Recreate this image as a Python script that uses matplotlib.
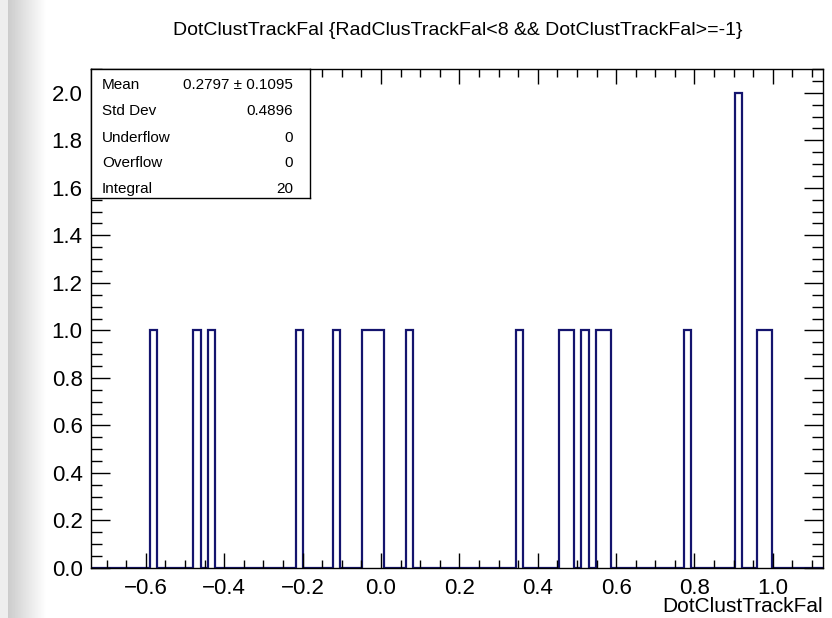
import numpy as np
import matplotlib
matplotlib.use("Agg")
import matplotlib.pyplot as plt
from matplotlib.ticker import MultipleLocator, FuncFormatter

plt.rcParams['font.family'] = ['Liberation Sans', 'DejaVu Sans']

# histogram definition
x_min, x_max, n_bins = -0.74, 1.128, 100
filled_bins = [8, 14, 16, 28, 33, 37, 38, 39, 43, 58, 64, 65, 67, 69, 70, 81, 88, 91, 92]
bin_counts = [1, 1, 1, 1, 1, 1, 1, 1, 1, 1, 1, 1, 1, 1, 1, 1, 2, 1, 1]

stat_names = ["Mean", "Std Dev", "Underflow", "Overflow", "Integral"]
stat_values = ["0.2797 \u00b1 0.1095", "0.4896", "0", "0", "20"]

title = "DotClustTrackFal {RadClusTrackFal<8 && DotClustTrackFal>=-1}"
x_label = "DotClustTrackFal"

counts = np.zeros(n_bins)
counts[filled_bins] = bin_counts
edges = np.linspace(x_min, x_max, n_bins + 1)

W, H = 832, 618
fig = plt.figure(figsize=(W / 100, H / 100), dpi=100)

# grey shadow strip on the left
bg = fig.add_axes([0, 0, 48 / W, 1])
grad = np.ones((2, 48))
ramp = np.clip((np.arange(48) - 8) / 38.0, 0, 1)
grad[:] = 0.80 + 0.20 * ramp
grad[:, :8] = 0.93
bg.imshow(grad, cmap='gray', vmin=0, vmax=1, aspect='auto', extent=[0, 1, 0, 1])
bg.axis('off')

ax = fig.add_axes([91 / W, 1 - 568 / H, (823 - 91) / W, (568 - 69) / H])
ax.stairs(counts, edges, color='#14146e', linewidth=1.6)
ax.set_xlim(x_min, x_max)
ax.set_ylim(0, 2.1)

ax.xaxis.set_major_locator(MultipleLocator(0.2))
ax.xaxis.set_minor_locator(MultipleLocator(0.05))
ax.yaxis.set_major_locator(MultipleLocator(0.2))
ax.yaxis.set_minor_locator(MultipleLocator(0.05))
fmt = FuncFormatter(lambda v, p: f"{v:.1f}".replace('-', '\u2212'))
ax.xaxis.set_major_formatter(fmt)
ax.yaxis.set_major_formatter(fmt)

ax.tick_params(axis='both', which='both', direction='in', top=True, right=True,
               colors='black', labelsize=16, width=1)
ax.tick_params(axis='x', which='major', length=11, pad=7)
ax.tick_params(axis='x', which='minor', length=6)
ax.tick_params(axis='y', which='major', length=14, pad=6)
ax.tick_params(axis='y', which='minor', length=8)
for s in ax.spines.values():
    s.set_linewidth(1)

# stats box
box = fig.add_axes([91 / W, 1 - 198 / H, 219 / W, 129 / H])
box.set_xticks([])
box.set_yticks([])
box.set_facecolor('white')
for s in box.spines.values():
    s.set_linewidth(1)
row_y = [0.843, 0.643, 0.436, 0.242, 0.041]
for name, val, yy in zip(stat_names, stat_values, row_y):
    box.text(0.05, yy, name, fontsize=11, ha='left', va='baseline', transform=box.transAxes)
    box.text(0.922, yy, val, fontsize=11, ha='right', va='baseline', transform=box.transAxes)

fig.text(458 / W, 1 - 35 / H, title, fontsize=14, ha='center', va='baseline')
fig.text(823 / W, 1 - 612 / H, x_label, fontsize=15, ha='right', va='baseline')

fig.savefig("out.png", dpi=100)
